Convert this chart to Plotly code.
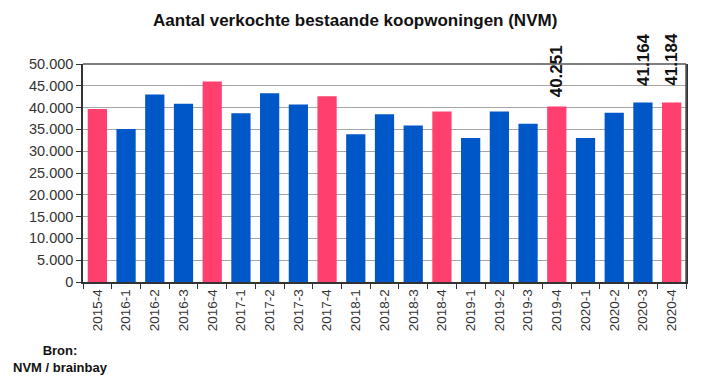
import plotly.graph_objects as go

quarters = ["2015-4", "2016-1", "2016-2", "2016-3", "2016-4", "2017-1", "2017-2",
            "2017-3", "2017-4", "2018-1", "2018-2", "2018-3", "2018-4", "2019-1",
            "2019-2", "2019-3", "2019-4", "2020-1", "2020-2", "2020-3", "2020-4"]
sales = [39700, 35100, 43000, 40900, 46000, 38700, 43300,
         40700, 42600, 33900, 38500, 35900, 39100, 33000,
         39100, 36300, 40251, 33000, 38800, 41164, 41184]
labelled = ["2019-4", "2020-3", "2020-4"]
label_gap = [7, 15, 15]

PINK = "#FF3F6E"
BLUE = "#0057C8"
colors = [PINK if q.endswith("-4") else BLUE for q in quarters]

FONT = "Arial, Liberation Sans, sans-serif"

def fmt(v):
    return f"{v:,}".replace(",", ".")

fig = go.Figure(go.Bar(x=quarters, y=sales, marker=dict(color=colors, line=dict(width=0)),
                       hoverinfo="x+y"))

for q, g in zip(labelled, label_gap):
    v = sales[quarters.index(q)]
    fig.add_annotation(x=q, y=v, text="<b>" + fmt(v) + "</b>", textangle=-90, showarrow=False,
                       yanchor="bottom", yshift=g,
                       font=dict(family=FONT, size=17, color="#111111"))

fig.add_annotation(xref="paper", yref="paper", x=-0.038, y=-0.272, xanchor="center",
                   yanchor="top", showarrow=False, align="center",
                   text="<b>Bron:</b><br><b>NVM / brainbay</b>",
                   font=dict(family=FONT, size=13, color="#111111"))

yticks = list(range(0, 50001, 5000))
fig.update_layout(
    width=719, height=390,
    margin=dict(l=83, r=33, t=64, b=108),
    paper_bgcolor="white", plot_bgcolor="white",
    bargap=0.33,
    showlegend=False,
    title=dict(text="<b>Aantal verkochte bestaande koopwoningen (NVM)</b>",
               x=0.494, xanchor="center", y=0.948, yanchor="middle",
               font=dict(family=FONT, size=17, color="#111111")),
    xaxis=dict(type="category", tickson="boundaries", ticks="outside", ticklen=5,
               tickcolor="#333333", tickangle=-90, showline=True, linecolor="#333333",
               linewidth=1.5, mirror=False, showgrid=False,
               tickfont=dict(family=FONT, size=13.5, color="#333333")),
    yaxis=dict(range=[0, 50000], tickvals=yticks, ticktext=[fmt(v) for v in yticks],
               ticks="outside", ticklen=5, tickcolor="#333333", showline=True,
               linecolor="#333333", linewidth=1.5, mirror=True, showgrid=True,
               gridcolor="#A6A6A6", gridwidth=1, zeroline=False,
               tickfont=dict(family=FONT, size=14.5, color="#333333")),
)
fig.add_shape(type="line", xref="paper", yref="paper", x0=0, x1=1, y0=1, y1=1,
              line=dict(color="#555555", width=1.5))
fig.add_shape(type="line", xref="paper", yref="paper", x0=1, x1=1, y0=0, y1=1,
              line=dict(color="#555555", width=1.5))

fig.write_html("out.html", config={"displayModeBar": False},
               post_script="document.body.style.margin='0';document.body.style.padding='0';")
